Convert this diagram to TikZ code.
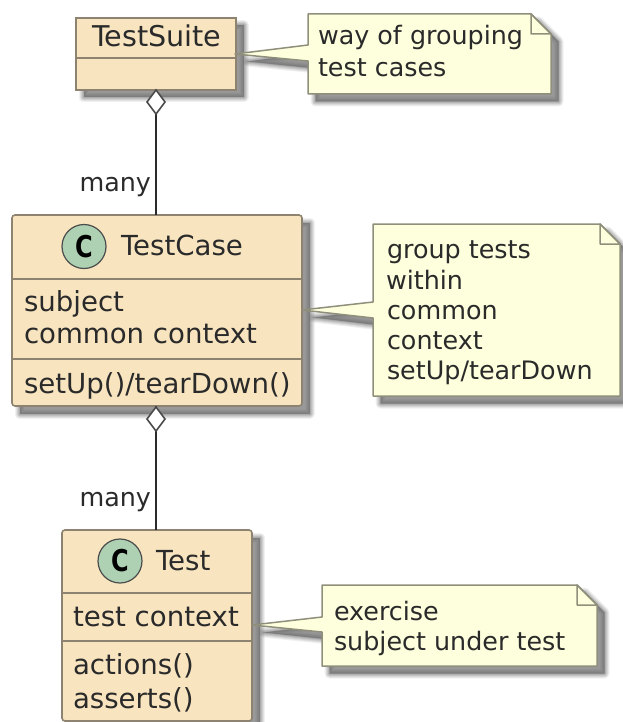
\documentclass[tikz,border=0pt]{standalone}
\usepackage{fontspec}
\usepackage{graphicx}
\setmainfont{DejaVu Sans}
\usetikzlibrary{calc}
\definecolor{classfill}{HTML}{F8E5C0}
\definecolor{classline}{HTML}{8E8270}
\definecolor{notefill}{HTML}{FEFFDD}
\definecolor{noteline}{HTML}{8F8F7C}
\definecolor{spotfill}{HTML}{ADD1B2}
\definecolor{ink}{HTML}{2A2A2A}
\newcommand{\softshadow}[1]{%
  \begin{scope}[shift={(7.5,7.5)},line join=round]
    \fill[black!60,opacity=.09,draw=black!60,line width=10pt] #1;
    \fill[black!60,opacity=.11,draw=black!60,line width=8pt] #1;
    \fill[black!60,opacity=.14,draw=black!60,line width=6pt] #1;
    \fill[black!60,opacity=.17,draw=black!60,line width=4pt] #1;
    \fill[black!60,opacity=.20,draw=black!60,line width=2pt] #1;
    \fill[black!60,opacity=.25] #1;
  \end{scope}}
\tikzset{
  x=1pt,y=-1pt,
  boxframe/.style={anchor=north west,inner sep=0pt,outer sep=0pt,draw=classline,fill=classfill,line width=1.6pt},
  lab/.style={anchor=base west,inner sep=0pt,outer sep=0pt,text=ink},
  big/.style={lab,font=\fontsize{27.6}{32}\selectfont},
  small/.style={lab,font=\fontsize{25.4}{30}\selectfont},
  notebody/.style={fill=notefill,draw=noteline,line width=1.5pt,line join=round},
  notefold/.style={draw=noteline,line width=1.5pt,fill=notefill,line join=round},
  divider/.style={draw=classline,line width=1.4pt},
  spot/.style={circle,draw=black!70,fill=spotfill,line width=1.2pt,minimum size=44pt,inner sep=0pt,font=\fontsize{30}{30}\bfseries\selectfont,text=black},
  link/.style={draw=ink,line width=1.6pt},
  hollow/.style={draw=ink!85,fill=white,line width=1.6pt,line join=miter},
  anchorpt/.style={inner sep=0pt,outer sep=0pt,minimum size=0pt}
}
\begin{document}
\begin{tikzpicture}
\useasboundingbox (0,0) rectangle (622,722);
\fill[white] (0,0) rectangle (622,722);

% shadows
\softshadow{(76,18) rectangle (236,90)}
\softshadow{(12,215) rectangle (302,406)}
\softshadow{(62,530) rectangle (252,721)}
\softshadow{(308,14) -- (531,14) -- (551,34) -- (551,94) -- (308,94) -- (308,61) -- (240,54) -- (308,45) -- cycle}
\softshadow{(373,224) -- (600,224) -- (620,244) -- (620,396) -- (373,396) -- (373,318) -- (306,310) -- (373,302) -- cycle}
\softshadow{(322,585) -- (577,585) -- (597,605) -- (597,666) -- (322,666) -- (322,632) -- (256,625) -- (322,617) -- cycle}

\node[boxframe,minimum width=160pt,minimum height=72pt] (suite) at (76,18) {};
\node[boxframe,rounded corners=3pt,minimum width=290pt,minimum height=191pt] (case) at (12,215) {};
\node[boxframe,rounded corners=3pt,minimum width=190pt,minimum height=191pt] (test) at (62,530) {};

% connectors
\coordinate (suiteD) at (156,90);
\coordinate (caseT) at (156,215);
\coordinate (caseD) at (156,406);
\coordinate (testT) at (156,530);
\path[link] (suiteD) -- (caseT);
\path[link] (caseD) -- (testT);
\path[hollow] (suiteD) -- ++(9,12) -- ++(-9,12) -- ++(-9,-12) -- cycle;
\path[hollow] (caseD) ++(0,1) -- ++(9,12) -- ++(-9,12) -- ++(-9,-12) -- cycle;

% dividers
\draw[divider] (76,58) -- (236,58);
\draw[divider] (12,279) -- (302,279);
\draw[divider] (12,359) -- (302,359);
\draw[divider] (62,593) -- (252,593);
\draw[divider] (62,641) -- (252,641);

% notes
\node[anchorpt] (n1) at (308,14) {};
\draw[notebody] (n1.center) -- (531,14) -- (551,34) -- (551,94) -- (308,94) -- (308,61) -- (235,54) -- (308,45) -- cycle;
\draw[notefold] (531,14) -- (531,34) -- (551,34) -- cycle;
\node[anchorpt] (n2) at (373,224) {};
\draw[notebody] (n2.center) -- (600,224) -- (620,244) -- (620,396) -- (373,396) -- (373,318) -- (302,310) -- (373,302) -- cycle;
\draw[notefold] (600,224) -- (600,244) -- (620,244) -- cycle;
\node[anchorpt] (n3) at (322,585) {};
\draw[notebody] (n3.center) -- (577,585) -- (597,605) -- (597,666) -- (322,666) -- (322,632) -- (252,625) -- (322,617) -- cycle;
\draw[notefold] (577,585) -- (577,605) -- (597,605) -- cycle;

% spots
\node[spot] (spotcase) at (84,246.5) {\scalebox{.8}[1]{C}};
\node[spot] (spottest) at (120,561) {\scalebox{.8}[1]{C}};

% texts
\node[big,font=\fontsize{28.6}{32}\selectfont] (t1) at (92,47) {TestSuite};
\node[big] (t2) at (121,255) {TestCase};
\node[big] (t3) at (24,311) {subject};
\node[big] (t4) at (24,343) {common context};
\node[big] (t5) at (24,393) {setUp()/tearDown()};
\node[big] (t6) at (156,570) {Test};
\node[big] (t7) at (73,626) {test context};
\node[big] (t8) at (73,674) {actions()};
\node[big] (t9) at (73,708) {asserts()};
\node[small,anchor=base east] (m1) at (151,191) {many};
\node[small,anchor=base east] (m2) at (151,506) {many};
\node[small] (a1) at (318,45) {way of grouping};
\node[small] (a2) at (318,77) {test cases};
\node[small] (b1) at (387,258) {group tests};
\node[small] (b2) at (386,289) {within};
\node[small] (b3) at (387,319) {common};
\node[small] (b4) at (387,349) {context};
\node[small] (b5) at (387,379) {setUp/tearDown};
\node[small] (c1) at (334,620) {exercise};
\node[small] (c2) at (334,650) {subject under test};
\end{tikzpicture}
\end{document}
